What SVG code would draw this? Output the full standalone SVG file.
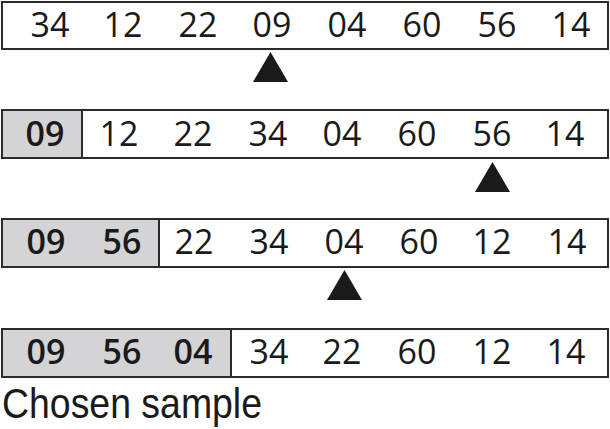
<svg xmlns="http://www.w3.org/2000/svg" width="610" height="429" viewBox="0 0 610 429">
<style>
.box{fill:#fff;stroke:#2b2b2b;stroke-width:2}
.sel{fill:#d4d4d6;stroke:#2b2b2b;stroke-width:2}
.n{font-family:"Open Sans","Noto Sans",sans-serif;font-size:34px;fill:#1a1a1a;text-anchor:middle}
.b{font-weight:600}
.tri{fill:#1a1a1a}
.cap{font-family:"Liberation Sans",Arial,sans-serif;font-size:42px;fill:#1a1a1a}
</style>
<rect width="610" height="429" fill="#fff"/>
<g id="row1">
<rect class="box" x="2" y="2" width="606" height="47"/>
<text class="n" y="37"><tspan x="50">34</tspan><tspan x="123">12</tspan><tspan x="198">22</tspan><tspan x="272">09</tspan><tspan x="347">04</tspan><tspan x="422">60</tspan><tspan x="497">56</tspan><tspan x="571">14</tspan></text>
</g>
<g id="row2">
<rect class="box" x="2" y="110" width="606" height="48"/>
<rect class="sel" x="2" y="110" width="80" height="48"/>
<text class="n b" x="45" y="146">09</text>
<text class="n" y="146"><tspan x="119">12</tspan><tspan x="193">22</tspan><tspan x="268">34</tspan><tspan x="342">04</tspan><tspan x="417">60</tspan><tspan x="492">56</tspan><tspan x="565">14</tspan></text>
</g>
<g id="row3">
<rect class="box" x="2" y="219" width="606" height="48"/>
<rect class="sel" x="2" y="219" width="157" height="48"/>
<text class="n b" y="254"><tspan x="46">09</tspan><tspan x="122">56</tspan></text>
<text class="n" y="254"><tspan x="194">22</tspan><tspan x="269">34</tspan><tspan x="344">04</tspan><tspan x="419">60</tspan><tspan x="492">12</tspan><tspan x="567">14</tspan></text>
</g>
<g id="row4">
<rect class="box" x="2" y="329" width="606" height="48"/>
<rect class="sel" x="2" y="329" width="229" height="48"/>
<text class="n b" y="364"><tspan x="46">09</tspan><tspan x="122">56</tspan><tspan x="193">04</tspan></text>
<text class="n" y="364"><tspan x="269">34</tspan><tspan x="342">22</tspan><tspan x="417">60</tspan><tspan x="492">12</tspan><tspan x="566">14</tspan></text>
</g>
<g id="pointers">
<polygon class="tri" points="253,82 288,82 270.5,52"/>
<polygon class="tri" points="475,192 510,192 492.5,162"/>
<polygon class="tri" points="327,300 362,300 344.5,270"/>
</g>
<g id="label">
<text class="cap" x="2" y="418" textLength="260" lengthAdjust="spacingAndGlyphs">Chosen sample</text>
</g>
</svg>
